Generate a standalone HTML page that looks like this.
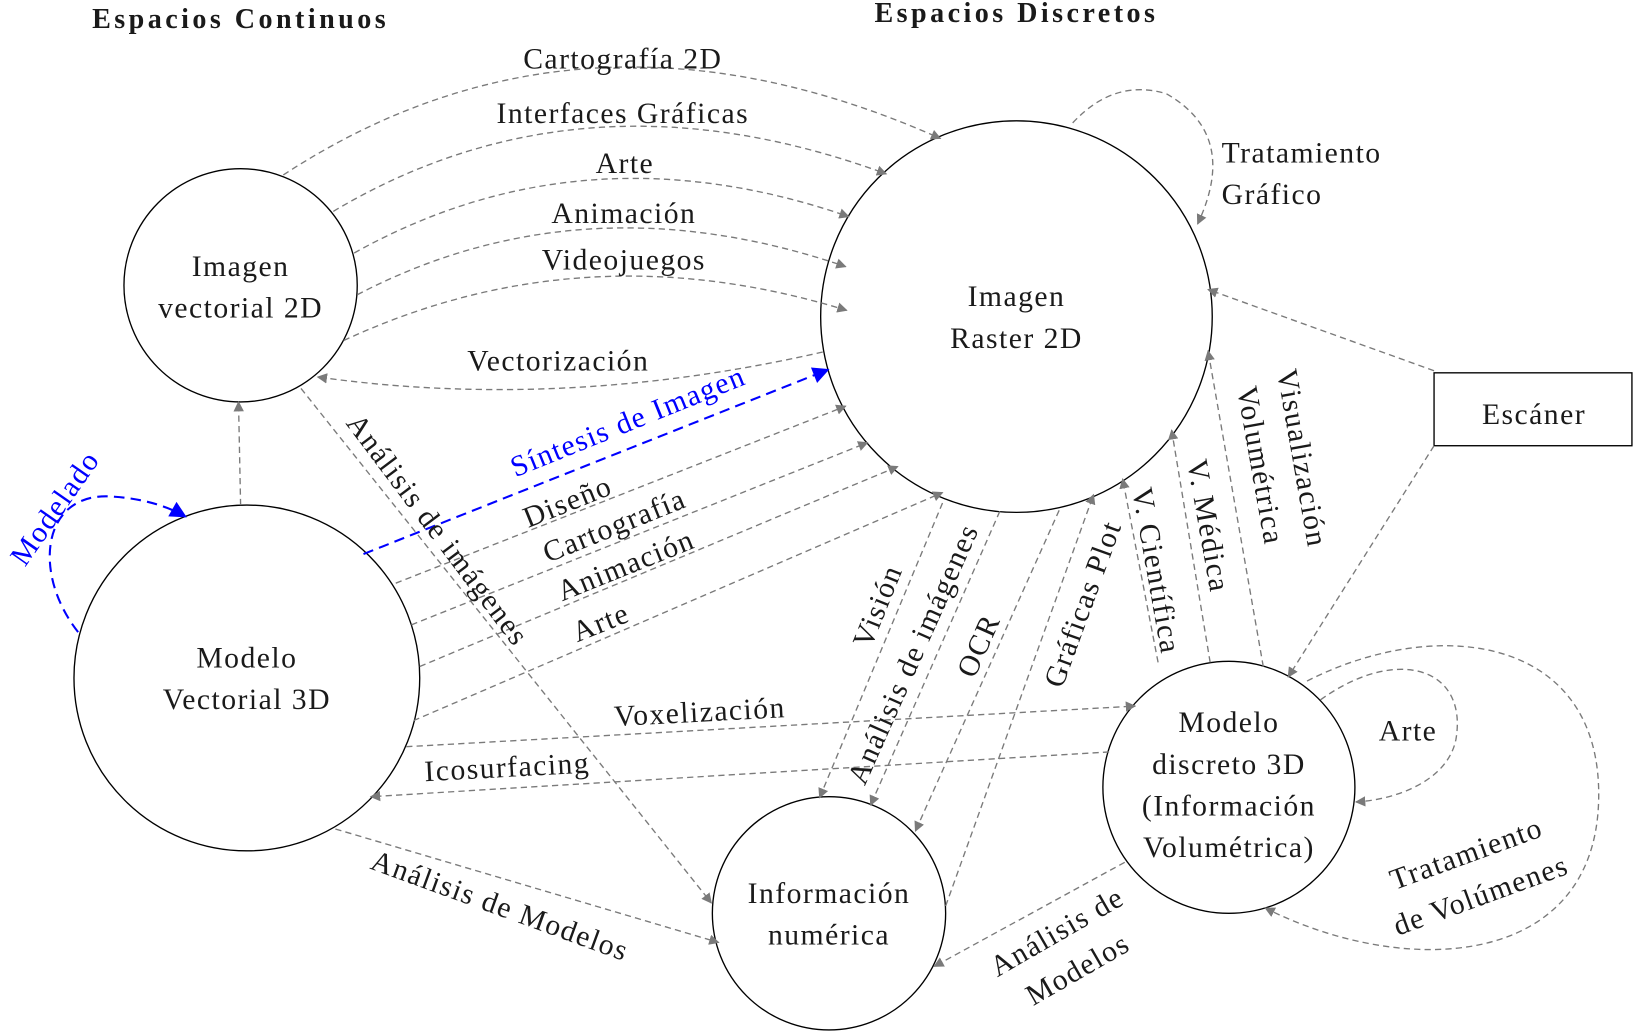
<!DOCTYPE html>
<html><head><meta charset="utf-8"><style>
html,body{margin:0;padding:0;background:#fff;}
svg{display:block;}
text{font-family:"Liberation Serif",serif;font-size:28.5px;letter-spacing:1.4px;fill:#1a1a1a;}
.b{font-weight:bold;font-size:27px;letter-spacing:3.3px;}
.e{fill:none;stroke:#7a7a7a;stroke-width:1.3;stroke-dasharray:6,4;}
.bl{fill:none;stroke:#0000ff;stroke-width:2;stroke-dasharray:10,6;}
.c{fill:none;stroke:#000;stroke-width:1.3;}
</style></head><body>
<svg width="1633" height="1031" viewBox="0 0 1568 990" xmlns="http://www.w3.org/2000/svg">
<defs>
<marker id="a" viewBox="0 0 10 10" refX="9" refY="5" markerWidth="10" markerHeight="10" markerUnits="userSpaceOnUse" orient="auto"><path d="M0,0 L10,5 L0,10 z" fill="#7a7a7a"/></marker>
<marker id="ab" viewBox="0 0 10 10" refX="9" refY="5" markerWidth="18" markerHeight="16" markerUnits="userSpaceOnUse" orient="auto"><path d="M0,0 L10,5 L0,10 z" fill="#0000ff"/></marker>
</defs>
<text class="b" x="231" y="27" text-anchor="middle">Espacios Continuos</text>
<text class="b" x="976" y="21" text-anchor="middle">Espacios Discretos</text>

<circle class="c" cx="231" cy="274" r="112"/>
<circle class="c" cx="976" cy="304" r="188"/>
<circle class="c" cx="237" cy="651" r="166"/>
<circle class="c" cx="796" cy="877" r="112"/>
<circle class="c" cx="1180" cy="756" r="121"/>
<rect class="c" x="1377" y="358" width="190" height="70"/>

<text x="231" y="265" text-anchor="middle">Imagen</text>
<text x="231" y="305" text-anchor="middle">vectorial 2D</text>
<text x="976" y="294" text-anchor="middle">Imagen</text>
<text x="976" y="334" text-anchor="middle">Raster 2D</text>
<text x="237" y="641" text-anchor="middle">Modelo</text>
<text x="237" y="681" text-anchor="middle">Vectorial 3D</text>
<text x="796" y="867" text-anchor="middle">Información</text>
<text x="796" y="907" text-anchor="middle">numérica</text>
<text x="1180" y="703" text-anchor="middle">Modelo</text>
<text x="1180" y="743" text-anchor="middle">discreto 3D</text>
<text x="1180" y="783" text-anchor="middle">(Información</text>
<text x="1180" y="823" text-anchor="middle">Volumétrica)</text>
<text x="1473" y="407" text-anchor="middle">Escáner</text>

<path class="e" d="M272,168 Q560,-20 903,133" marker-end="url(#a)"/>
<text x="598" y="66" text-anchor="middle">Cartografía 2D</text>
<path class="e" d="M320,203 Q560,60 851,167" marker-end="url(#a)"/>
<text x="598" y="118" text-anchor="middle">Interfaces Gráficas</text>
<path class="e" d="M340,243 Q560,120 815,208" marker-end="url(#a)"/>
<text x="600" y="166" text-anchor="middle">Arte</text>
<path class="e" d="M343,283 Q560,170 812,256" marker-end="url(#a)"/>
<text x="599" y="214" text-anchor="middle">Animación</text>
<path class="e" d="M330,327 Q560,220 813,298" marker-end="url(#a)"/>
<text x="599" y="259" text-anchor="middle">Videojuegos</text>
<path class="e" d="M790,338 Q540,395 305,362" marker-end="url(#a)"/>
<text x="536" y="356" text-anchor="middle">Vectorización</text>
<path class="e" d="M1030,118 Q1070,75 1120,90 Q1190,130 1150,215" marker-end="url(#a)"/>
<text x="1173" y="156">Tratamiento</text>
<text x="1173" y="196">Gráfico</text>

<path class="e" d="M1377,356 L1160,278" marker-end="url(#a)"/>
<path class="e" d="M1377,428 L1237,650" marker-end="url(#a)"/>

<path class="e" d="M231,485 L229,386" marker-end="url(#a)"/>

<path class="bl" d="M75,607 C30,550 40,470 110,477 Q150,480 178,496" marker-end="url(#ab)"/>
<text x="53" y="497" transform="rotate(-55 53 488)" text-anchor="middle" style="fill:#0000ff">Modelado</text>

<path class="bl" d="M349,532 L795,355" marker-end="url(#ab)"/>
<text x="603" y="414" transform="rotate(-22 603 405)" text-anchor="middle" style="fill:#0000ff">Síntesis de Imagen</text>
<path class="e" d="M380,560 L812,390" marker-end="url(#a)"/>
<text x="545" y="491" transform="rotate(-22 545 482)" text-anchor="middle">Diseño</text>
<path class="e" d="M395,600 L833,425" marker-end="url(#a)"/>
<text x="590" y="514" transform="rotate(-22 590 505)" text-anchor="middle">Cartografía</text>
<path class="e" d="M403,640 L862,448" marker-end="url(#a)"/>
<text x="601" y="552" transform="rotate(-22 601 543)" text-anchor="middle">Animación</text>
<path class="e" d="M397,692 L905,473" marker-end="url(#a)"/>
<text x="577" y="607" transform="rotate(-22 577 598)" text-anchor="middle">Arte</text>

<path class="e" d="M390,717 L1090,678" marker-end="url(#a)"/>
<text x="672" y="693" transform="rotate(-3 672 684)" text-anchor="middle">Voxelización</text>
<path class="e" d="M1065,722 L356,765" marker-end="url(#a)"/>
<text x="487" y="746" transform="rotate(-3 487 737)" text-anchor="middle">Icosurfacing</text>
<path class="e" d="M322,796 L690,905" marker-end="url(#a)"/>
<text x="480" y="879" transform="rotate(20 480 870)" text-anchor="middle">Análisis de Modelos</text>
<path class="e" d="M289,373 L683,867" marker-end="url(#a)"/>
<text x="420" y="518" transform="rotate(53 420 509)" text-anchor="middle">Análisis de imágenes</text>

<path class="e" d="M905,483 L787,766" marker-end="url(#a)"/>
<text x="843" y="591" transform="rotate(-68 843 582)" text-anchor="middle">Visión</text>
<path class="e" d="M960,491 L836,773" marker-end="url(#a)"/>
<text x="877" y="637" transform="rotate(-66 877 628)" text-anchor="middle">Análisis de imágenes</text>
<path class="e" d="M1017,490 L879,798" marker-end="url(#a)"/>
<text x="940" y="629" transform="rotate(-66 940 620)" text-anchor="middle">OCR</text>
<path class="e" d="M908,870 L1050,475" marker-end="url(#a)"/>
<text x="1040" y="589" transform="rotate(-70 1040 580)" text-anchor="middle">Gráficas Plot</text>

<path class="e" d="M1112,636 L1078,460" marker-end="url(#a)"/>
<text x="1110" y="557" transform="rotate(80 1110 548)" text-anchor="middle">V. Científica</text>
<path class="e" d="M1162,636 L1125,413" marker-end="url(#a)"/>
<text x="1160" y="514" transform="rotate(80 1160 505)" text-anchor="middle">V. Médica</text>
<path class="e" d="M1213,640 L1160,337" marker-end="url(#a)"/>
<text x="1250" y="449" transform="rotate(80 1250 440)" text-anchor="middle">Visualización</text>
<text x="1210" y="456" transform="rotate(80 1210 447)" text-anchor="middle">Volumétrica</text>

<path class="e" d="M1268,672 C1340,620 1410,640 1398,710 C1390,750 1340,768 1302,770" marker-end="url(#a)"/>
<text x="1352" y="711" text-anchor="middle">Arte</text>
<path class="e" d="M1255,654 C1380,590 1540,610 1535,770 C1530,930 1350,940 1215,872" marker-end="url(#a)"/>
<text x="1408" y="829" transform="rotate(-20 1408 820)" text-anchor="middle">Tratamiento</text>
<text x="1422" y="869" transform="rotate(-20 1422 860)" text-anchor="middle">de Volúmenes</text>
<path class="e" d="M1080,828 L897,928" marker-end="url(#a)"/>
<text x="1015" y="904" transform="rotate(-30 1015 895)" text-anchor="middle">Análisis de</text>
<text x="1035" y="940" transform="rotate(-30 1035 931)" text-anchor="middle">Modelos</text>
</svg>
</body></html>
